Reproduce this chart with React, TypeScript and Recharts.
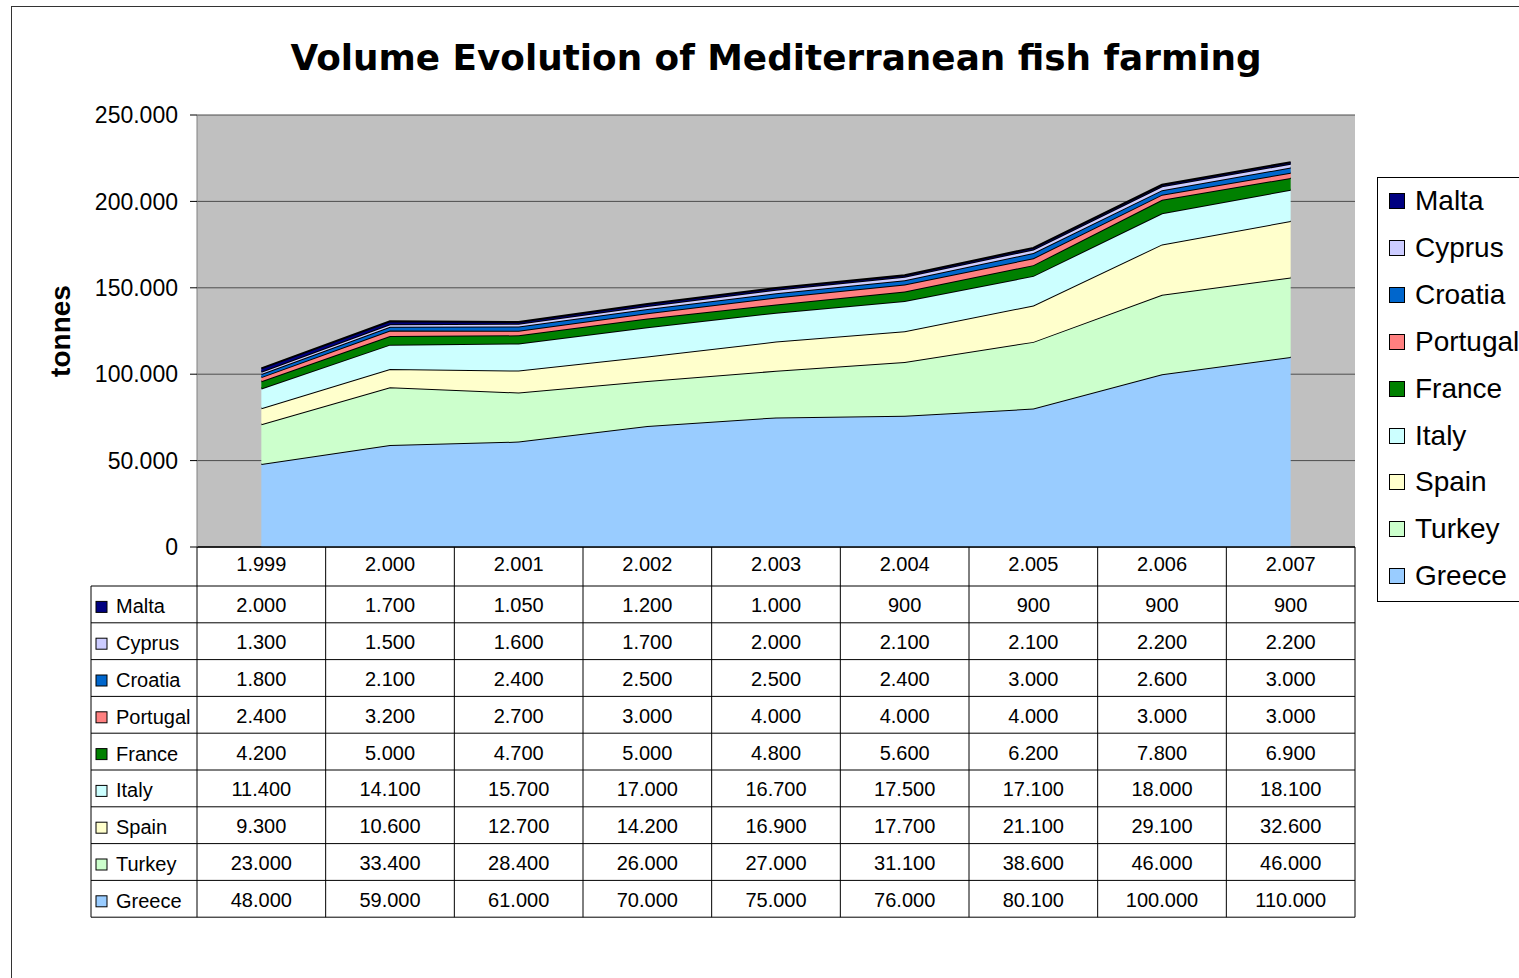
import React from 'react';
import { AreaChart, Area, XAxis, YAxis, CartesianGrid } from 'recharts';

const years = ['1.999', '2.000', '2.001', '2.002', '2.003', '2.004', '2.005', '2.006', '2.007'];
const greece = [48000, 59000, 61000, 70000, 75000, 76000, 80100, 100000, 110000];
const turkey = [23000, 33400, 28400, 26000, 27000, 31100, 38600, 46000, 46000];
const spain = [9300, 10600, 12700, 14200, 16900, 17700, 21100, 29100, 32600];
const italy = [11400, 14100, 15700, 17000, 16700, 17500, 17100, 18000, 18100];
const france = [4200, 5000, 4700, 5000, 4800, 5600, 6200, 7800, 6900];
const portugal = [2400, 3200, 2700, 3000, 4000, 4000, 4000, 3000, 3000];
const croatia = [1800, 2100, 2400, 2500, 2500, 2400, 3000, 2600, 3000];
const cyprus = [1300, 1500, 1600, 1700, 2000, 2100, 2100, 2200, 2200];
const malta = [2000, 1700, 1050, 1200, 1000, 900, 900, 900, 900];
const yTicks = [0, 50000, 100000, 150000, 200000, 250000];

// stacking order bottom -> top
const series = [
  { key: 'Greece', values: greece, color: '#99CCFF' },
  { key: 'Turkey', values: turkey, color: '#CCFFCC' },
  { key: 'Spain', values: spain, color: '#FFFFCC' },
  { key: 'Italy', values: italy, color: '#CCFFFF' },
  { key: 'France', values: france, color: '#008000' },
  { key: 'Portugal', values: portugal, color: '#FF8080' },
  { key: 'Croatia', values: croatia, color: '#0066CC' },
  { key: 'Cyprus', values: cyprus, color: '#CCCCFF' },
  { key: 'Malta', values: malta, color: '#000080' },
];
const tableRows = [...series].reverse();

const data = years.map((y, i) => {
  const row: any = { year: y };
  series.forEach((s) => (row[s.key] = s.values[i]));
  return row;
});

const fmt = (n: number) => {
  const s = String(Math.round(n));
  return s.replace(/\B(?=(\d{3})+(?!\d))/g, '.');
};

const W = 1519;
const H = 978;
const PLOT_L = 197;
const PLOT_R = 1355;
const PLOT_T = 115;
const PLOT_B = 547;
const COL_W = (PLOT_R - PLOT_L) / years.length;
const HEADER_H = 39;
const ROW_H = 36.8;
const LABEL_L = 91;
const XAXIS_H = 372;
const FONT = 'Arial, "Liberation Sans", sans-serif';

const TableTick = (props: any) => {
  const { x, y, payload } = props;
  const i = payload && payload.index != null ? payload.index : props.index;
  const left = x - COL_W / 2;
  const right = x + COL_W / 2;
  const tableTop = y + HEADER_H;
  const tableBottom = tableTop + ROW_H * tableRows.length;
  return (
    <g>
      {i === 0 && (
        <g>
          {tableRows.map((s, r) => (
            <line key={'h' + r} x1={LABEL_L} x2={PLOT_R} y1={tableTop + r * ROW_H} y2={tableTop + r * ROW_H} stroke="#000" strokeWidth={1} />
          ))}
          <line x1={LABEL_L} x2={PLOT_R} y1={tableBottom} y2={tableBottom} stroke="#000" strokeWidth={1} />
          <line x1={LABEL_L} x2={LABEL_L} y1={tableTop} y2={tableBottom} stroke="#000" strokeWidth={1} />
          {tableRows.map((s, r) => {
            const cy = tableTop + r * ROW_H + ROW_H / 2 + 2;
            return (
              <g key={'l' + r}>
                <rect x={96} y={cy - 5} width={11} height={11} fill={s.color} stroke="#000" strokeWidth={1} />
                <text x={116} y={cy + 7} fontSize={20} fontFamily={FONT} fill="#000">{s.key}</text>
              </g>
            );
          })}
        </g>
      )}
      <line x1={left} x2={left} y1={y} y2={tableBottom} stroke="#000" strokeWidth={1} />
      {i === years.length - 1 && <line x1={right} x2={right} y1={y} y2={tableBottom} stroke="#000" strokeWidth={1} />}
      <text x={x} y={y + HEADER_H / 2 + 4} textAnchor="middle" fontSize={20} fontFamily={FONT} fill="#000">{payload.value}</text>
      {tableRows.map((s, r) => (
        <text key={r} x={x} y={tableTop + r * ROW_H + ROW_H / 2 + 8} textAnchor="middle" fontSize={20} fontFamily={FONT} fill="#000">
          {fmt(s.values[i])}
        </text>
      ))}
    </g>
  );
};

const LegendBox = () => (
  <div style={{ position: 'absolute', left: 1377, top: 177, width: 200, height: 425, border: '1px solid #000', background: '#fff', boxSizing: 'border-box' }}>
    {tableRows.map((s, r) => (
      <div key={s.key} style={{ position: 'absolute', left: 11, top: 23 + r * 46.9 - 16, height: 32, display: 'flex', alignItems: 'center', fontFamily: FONT, fontSize: 28, color: '#000', whiteSpace: 'nowrap' }}>
        <span style={{ display: 'inline-block', width: 14, height: 14, background: s.color, border: '1px solid #000', marginRight: 10 }} />
        {s.key}
      </div>
    ))}
  </div>
);

export default function App() {
  return (
    <div style={{ position: 'absolute', left: 0, top: 0, width: W, height: H, overflow: 'hidden', background: '#fff' }}>
      <div style={{ position: 'absolute', left: 11, top: 6, width: 1700, height: 1200, border: '1.5px solid #333', boxSizing: 'border-box' }} />
      <div style={{ position: 'absolute', left: 0, top: 0 }}>
        <AreaChart
          width={W}
          height={H}
          data={data}
          margin={{ top: PLOT_T, right: W - PLOT_R, left: PLOT_L - 100, bottom: H - PLOT_B - XAXIS_H }}
        >
          <text x={776} y={70} textAnchor="middle" fontFamily='"DejaVu Sans", Verdana, sans-serif' fontWeight="bold" fontSize={35.8} fill="#000">
            Volume Evolution of Mediterranean fish farming
          </text>
          <text
            x={70}
            y={331}
            transform="rotate(-90 70 331)"
            textAnchor="middle"
            fontFamily={FONT}
            fontWeight="bold"
            fontSize={28}
            fill="#000"
          >
            tonnes
          </text>
          <CartesianGrid fill="#C0C0C0" vertical={false} stroke="#4d4d4d" strokeWidth={1} />
          <XAxis
            dataKey="year"
            padding={{ left: COL_W / 2, right: COL_W / 2 }}
            height={XAXIS_H}
            tickSize={0}
            tickMargin={0}
            tickLine={false}
            axisLine={{ stroke: '#000', strokeWidth: 1.5 }}
            tick={<TableTick />}
            interval={0}
          />
          <YAxis
            width={100}
            domain={[0, 250000]}
            ticks={yTicks}
            tickFormatter={fmt}
            tickSize={7}
            tickMargin={12}
            tickLine={{ stroke: '#000' }}
            axisLine={{ stroke: '#808080' }}
            tick={{ fontSize: 23, fontFamily: FONT, fill: '#000' }}
            interval={0}
          />
          {series.map((s) => (
            <Area
              key={s.key}
              type="linear"
              dataKey={s.key}
              stackId="1"
              stroke="#000"
              strokeWidth={2}
              fill={s.color}
              fillOpacity={1}
              isAnimationActive={false}
              dot={false}
              activeDot={false}
            />
          ))}
        </AreaChart>
      </div>
      <LegendBox />
    </div>
  );
}
